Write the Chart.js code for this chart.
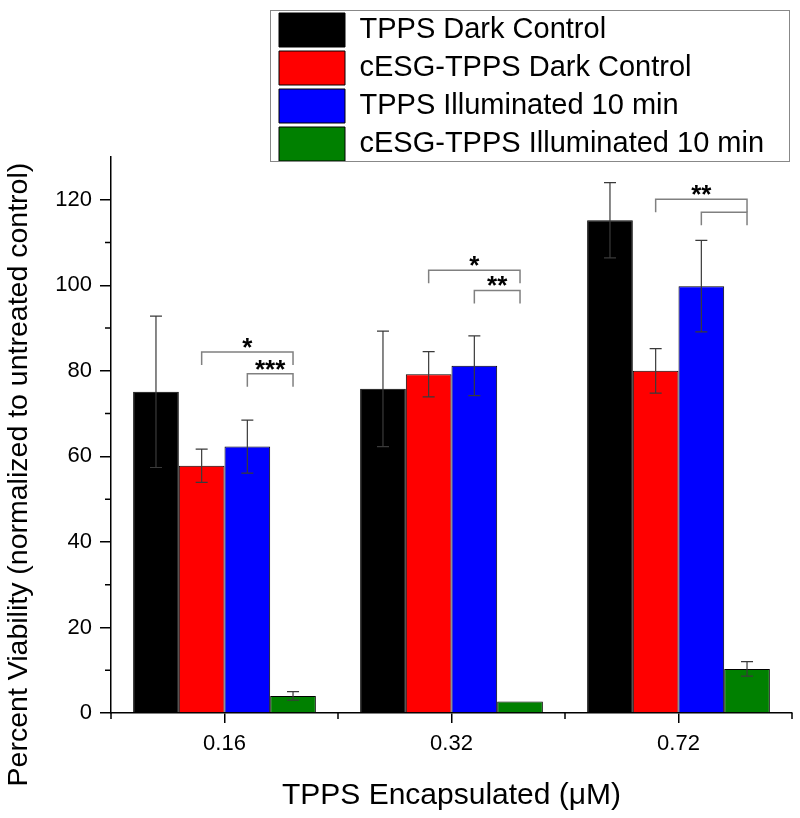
<!DOCTYPE html>
<html>
<head>
<meta charset="utf-8">
<script src="https://cdn.jsdelivr.net/npm/chart.js@4.4.1/dist/chart.umd.min.js"></script>
<style>
  html, body { margin: 0; padding: 0; background: #fff; }
  canvas { display: block; }
</style>
</head>
<body>
<canvas id="grafico" width="800" height="818"></canvas>
<script>
var concentraciones = ["0.16", "0.32", "0.72"];
var series = ["TPPS Dark Control", "cESG-TPPS Dark Control", "TPPS Illuminated 10 min", "cESG-TPPS Illuminated 10 min"];
var colores = ["#000000", "#ff0000", "#0000ff", "#008000"];

// viabilidad media (%) y error de cada serie
var tppsOscuro = [75.1, 75.8, 115.2];
var cesgOscuro = [57.8, 79.2, 80.0];
var tppsLuz = [62.3, 81.2, 99.8];
var cesgLuz = [4.0, 2.7, 10.3];
var errTppsOscuro = [17.7, 13.5, 8.8];
var errCesgOscuro = [3.9, 5.3, 5.2];
var errTppsLuz = [6.2, 7.0, 10.7];
var errCesgLuz = [1.0, 0, 1.7];

var yTicks = [0, 20, 40, 60, 80, 100, 120];
var yMinor = [10, 30, 50, 70, 90, 110];
var yMax = 130;

// corchetes de significancia: grupo, serie inicial, serie final, nivel (%), texto
var sigGrupo = [0, 0, 1, 1, 2, 2];
var sigDesde = [1, 2, 1, 2, 1, 2];
var sigHasta = [3, 3, 3, 3, 3, 3];
var sigNivel = [84.4, 79.3, 103.5, 98.8, 120.1, 117.1];
var sigTexto = ["*", "***", "*", "**", "**", ""];

var valores = [tppsOscuro, cesgOscuro, tppsLuz, cesgLuz];
var errores = [errTppsOscuro, errCesgOscuro, errTppsLuz, errCesgLuz];

Chart.defaults.font.family = "'Liberation Sans', Arial, sans-serif";
Chart.defaults.color = "#000";

var tituloY = "Percent Viability (normalized to untreated control)";
tituloY = tituloY + "          ";

// barras de error
var pluginErrores = {
  id: "errores",
  afterDatasetsDraw: function (chart) {
    var ctx = chart.ctx;
    var escalaY = chart.scales.y;
    ctx.save();
    ctx.strokeStyle = "#3a3a3a";
    ctx.lineWidth = 1.2;
    errores.forEach(function (errs, d) {
      var meta = chart.getDatasetMeta(d);
      meta.data.forEach(function (barra, i) {
        var e = errs[i];
        if (!e) return;
        var v = valores[d][i];
        var arriba = escalaY.getPixelForValue(v + e);
        var abajo = escalaY.getPixelForValue(v - e);
        ctx.beginPath();
        ctx.moveTo(barra.x, arriba);
        ctx.lineTo(barra.x, abajo);
        ctx.moveTo(barra.x - 6, arriba);
        ctx.lineTo(barra.x + 6, arriba);
        ctx.moveTo(barra.x - 6, abajo);
        ctx.lineTo(barra.x + 6, abajo);
        ctx.stroke();
      });
    });
    ctx.restore();
  },
};

// corchetes con asteriscos
var pluginSignificancia = {
  id: "significancia",
  afterDatasetsDraw: function (chart) {
    var ctx = chart.ctx;
    var escalaY = chart.scales.y;
    ctx.save();
    ctx.strokeStyle = "#808080";
    ctx.lineWidth = 1.5;
    ctx.fillStyle = "#000";
    ctx.font = "bold 26px 'Liberation Sans', Arial, sans-serif";
    ctx.textAlign = "center";
    ctx.textBaseline = "alphabetic";
    sigGrupo.forEach(function (g, k) {
      var x1 = chart.getDatasetMeta(sigDesde[k]).data[g].x;
      var x2 = chart.getDatasetMeta(sigHasta[k]).data[g].x;
      var y = escalaY.getPixelForValue(sigNivel[k]);
      ctx.beginPath();
      ctx.moveTo(x1, y + 13);
      ctx.lineTo(x1, y);
      ctx.lineTo(x2, y);
      ctx.lineTo(x2, y + 13);
      ctx.stroke();
      if (sigTexto[k]) {
        ctx.fillText(sigTexto[k], (x1 + x2) / 2, y + 4);
      }
    });
    ctx.restore();
  },
};

// marcas menores de los ejes, recuadro de la leyenda
var pluginEjes = {
  id: "ejes",
  afterLayout: function (chart) {
    var leyenda = chart.legend;
    leyenda.left = 275;
    leyenda.top = 9;
    leyenda.right = 789;
    leyenda.bottom = 200;
  },
  afterDraw: function (chart) {
    var ctx = chart.ctx;
    var x = chart.scales.x;
    var y = chart.scales.y;
    ctx.save();
    ctx.strokeStyle = "#000";
    ctx.lineWidth = 1.5;
    ctx.beginPath();
    yMinor.forEach(function (v) {
      var py = y.getPixelForValue(v);
      ctx.moveTo(y.right - 6, py);
      ctx.lineTo(y.right, py);
    });
    var n = concentraciones.length;
    for (var i = 0; i <= n; i++) {
      var px = x.left + (i * x.width) / n;
      ctx.moveTo(px, x.top);
      ctx.lineTo(px, x.top + 6);
    }
    ctx.stroke();
    ctx.strokeStyle = "#888";
    ctx.lineWidth = 1;
    ctx.strokeRect(270.5, 10.5, 519, 151);
    ctx.restore();
  },
};

var ctx = document.getElementById("grafico");

var grafico = new Chart(ctx, {
  type: "bar",
  data: {
    labels: concentraciones,
    datasets: series.map(function (nombre, d) {
      return {
        label: nombre,
        data: valores[d],
        backgroundColor: colores[d],
        borderColor: "#000",
        borderWidth: 1,
        categoryPercentage: 0.805,
        barPercentage: 1.0,
      };
    }),
  },
  options: {
    responsive: false,
    animation: false,
    layout: {
      padding: { top: 157, right: 7, bottom: 0, left: 0 },
    },
    plugins: {
      tooltip: { enabled: false },
      legend: {
        position: "right",
        maxWidth: 1,
        align: "start",
        labels: {
          boxWidth: 66,
          boxHeight: 34,
          padding: 4,
          color: "#000",
          font: { size: 29 },
        },
      },
    },
    scales: {
      x: {
        offset: true,
        afterFit: function (escala) {
          escala.height = 105;
        },
        grid: {
          offset: false,
          drawOnChartArea: false,
          tickLength: 10,
          color: "#000",
          lineWidth: 1.5,
        },
        border: { color: "#000", width: 1.5 },
        ticks: { font: { size: 22 }, padding: 8, color: "#000" },
        title: {
          display: true,
          text: "TPPS Encapsulated (\u03bcM)",
          font: { size: 30 },
          padding: { top: 0, bottom: 4 },
          color: "#000",
        },
      },
      y: {
        min: 0,
        max: yMax,
        afterBuildTicks: function (escala) {
          escala.ticks = yTicks.map(function (v) {
            return { value: v };
          });
        },
        afterFit: function (escala) {
          escala.width = 111;
        },
        grid: {
          drawOnChartArea: false,
          tickLength: 11,
          color: "#000",
          lineWidth: 1.5,
        },
        border: { color: "#000", width: 1.5 },
        ticks: { font: { size: 22 }, padding: 8, color: "#000" },
        title: {
          display: true,
          text: tituloY,
          font: { size: 28.5 },
          padding: { top: 2, bottom: 0 },
          color: "#000",
        },
      },
    },
  },
  plugins: [pluginErrores, pluginSignificancia, pluginEjes],
});
</script>
</body>
</html>
